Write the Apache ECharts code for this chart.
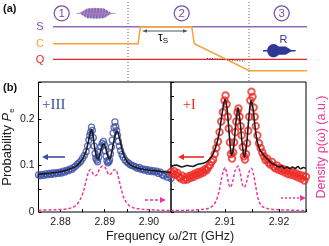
<!DOCTYPE html>
<html><head><meta charset="utf-8">
<script src="https://cdn.jsdelivr.net/npm/echarts@6/dist/echarts.min.js"></script>
<style>html,body{margin:0;padding:0;background:#fff}#c{width:329px;height:246px}</style>
</head><body><div id="c"></div>
<script>
// ---- Panel (b) left: +III ----
const dataIIIFreq = [2.8750,2.8754,2.8758,2.8762,2.8766,2.8770,2.8774,2.8778,2.8782,2.8786,2.8790,2.8794,2.8798,2.8802,2.8806,2.8810,2.8814,2.8818,2.8822,2.8826,2.8830,2.8834,2.8838,2.8842,2.8846,2.8850,2.8854,2.8858,2.8861,2.8864,2.8866,2.8868,2.8870,2.8872,2.8874,2.8876,2.8878,2.8880,2.8882,2.8884,2.8886,2.8888,2.8891,2.8894,2.8897,2.8899,2.8901,2.8903,2.8905,2.8907,2.8909,2.8911,2.8913,2.8915,2.8917,2.8919,2.8921,2.8923,2.8925,2.8927,2.8929,2.8931,2.8933,2.8936,2.8939,2.8942,2.8946,2.8950,2.8954,2.8958,2.8962,2.8966,2.8970,2.8974,2.8978,2.8982,2.8986,2.8990,2.8994,2.8998,2.9002,2.9006,2.9010,2.9014,2.9018,2.9022,2.9026,2.9030,2.9034,2.9038,2.9042,2.9046,2.9050];
const dataIIIProb = [0.080,0.078,0.081,0.079,0.082,0.080,0.083,0.081,0.084,0.082,0.085,0.083,0.086,0.084,0.088,0.086,0.090,0.089,0.093,0.092,0.096,0.099,0.103,0.106,0.110,0.116,0.122,0.130,0.142,0.155,0.165,0.172,0.183,0.176,0.160,0.142,0.126,0.116,0.112,0.108,0.118,0.130,0.140,0.148,0.152,0.145,0.132,0.120,0.110,0.106,0.108,0.112,0.125,0.140,0.155,0.170,0.182,0.194,0.184,0.175,0.165,0.152,0.142,0.132,0.124,0.118,0.112,0.108,0.105,0.102,0.100,0.099,0.097,0.094,0.096,0.092,0.093,0.090,0.092,0.088,0.090,0.087,0.089,0.086,0.088,0.083,0.086,0.080,0.078,0.082,0.075,0.080,0.072];
const fitIIIFreq = [2.8750,2.8770,2.8790,2.8810,2.8825,2.8835,2.8845,2.8852,2.8858,2.8863,2.8867,2.8870,2.8873,2.8877,2.8881,2.8885,2.8889,2.8894,2.8898,2.8902,2.8907,2.8911,2.8915,2.8920,2.8925,2.8928,2.8931,2.8936,2.8941,2.8947,2.8955,2.8965,2.8980,2.9000,2.9020,2.9050];
const fitIIIProb = [0.081,0.083,0.085,0.089,0.094,0.099,0.108,0.118,0.132,0.152,0.170,0.177,0.168,0.140,0.120,0.114,0.125,0.142,0.147,0.138,0.120,0.114,0.125,0.150,0.170,0.175,0.168,0.148,0.128,0.114,0.104,0.098,0.093,0.090,0.088,0.085];
const densIIIFreq = [2.8750,2.8790,2.8810,2.8825,2.8835,2.8845,2.8852,2.8858,2.8863,2.8867,2.8872,2.8877,2.8882,2.8888,2.8895,2.8900,2.8905,2.8910,2.8915,2.8920,2.8925,2.8930,2.8935,2.8940,2.8945,2.8955,2.8965,2.8985,2.9020,2.9050];
const densIIIAU = [0.004,0.005,0.006,0.009,0.014,0.028,0.045,0.068,0.085,0.091,0.085,0.078,0.080,0.092,0.099,0.097,0.088,0.080,0.083,0.090,0.091,0.078,0.058,0.040,0.027,0.014,0.009,0.006,0.004,0.003];

// ---- Panel (b) right: +I ----
const dataIFreq = [2.9000,2.9003,2.9006,2.9009,2.9012,2.9015,2.9018,2.9021,2.9024,2.9027,2.9030,2.9033,2.9036,2.9039,2.9042,2.9045,2.9048,2.9051,2.9054,2.9057,2.9060,2.9063,2.9066,2.9069,2.9072,2.9075,2.9078,2.9081,2.9084,2.9087,2.9090,2.9093,2.9096,2.9099,2.9101,2.9103,2.9105,2.9107,2.9109,2.9111,2.9113,2.9115,2.9117,2.9119,2.9121,2.9123,2.9125,2.9127,2.9129,2.9131,2.9133,2.9135,2.9137,2.9139,2.9141,2.9143,2.9145,2.9147,2.9149,2.9151,2.9153,2.9155,2.9157,2.9160,2.9163,2.9166,2.9169,2.9172,2.9175,2.9178,2.9181,2.9184,2.9187,2.9190,2.9193,2.9196,2.9199,2.9202,2.9205,2.9208,2.9211,2.9214,2.9217,2.9220,2.9223,2.9226,2.9229,2.9232,2.9235,2.9238,2.9241,2.9244,2.9247,2.9250];
const dataIProb = [0.086,0.082,0.088,0.080,0.084,0.076,0.072,0.078,0.069,0.074,0.070,0.077,0.073,0.080,0.076,0.083,0.079,0.086,0.082,0.088,0.085,0.092,0.090,0.096,0.101,0.108,0.113,0.125,0.138,0.152,0.172,0.195,0.215,0.240,0.251,0.232,0.205,0.180,0.150,0.125,0.115,0.128,0.150,0.172,0.195,0.215,0.223,0.205,0.185,0.165,0.140,0.120,0.113,0.125,0.148,0.175,0.205,0.240,0.259,0.248,0.225,0.205,0.185,0.165,0.148,0.138,0.128,0.120,0.112,0.115,0.106,0.102,0.108,0.098,0.094,0.100,0.091,0.095,0.088,0.092,0.085,0.090,0.082,0.087,0.080,0.085,0.078,0.083,0.075,0.080,0.072,0.078,0.068,0.076];
const fitIFreq = [2.9000,2.9010,2.9020,2.9030,2.9040,2.9050,2.9060,2.9070,2.9078,2.9085,2.9090,2.9095,2.9100,2.9104,2.9108,2.9112,2.9116,2.9120,2.9124,2.9128,2.9132,2.9136,2.9140,2.9144,2.9148,2.9152,2.9156,2.9160,2.9165,2.9170,2.9175,2.9180,2.9185,2.9190,2.9195,2.9200,2.9205,2.9210,2.9215,2.9220,2.9225,2.9230,2.9235,2.9240,2.9245,2.9250];
const fitIProb = [0.098,0.101,0.097,0.100,0.098,0.103,0.105,0.112,0.125,0.148,0.175,0.215,0.243,0.220,0.165,0.122,0.140,0.190,0.225,0.195,0.145,0.118,0.145,0.200,0.240,0.222,0.180,0.150,0.133,0.125,0.118,0.112,0.106,0.103,0.100,0.097,0.099,0.094,0.097,0.093,0.097,0.094,0.098,0.093,0.096,0.094];
const densIFreq = [2.9000,2.9040,2.9060,2.9070,2.9078,2.9084,2.9089,2.9093,2.9097,2.9100,2.9103,2.9107,2.9110,2.9114,2.9119,2.9124,2.9128,2.9132,2.9136,2.9140,2.9145,2.9149,2.9153,2.9157,2.9161,2.9165,2.9170,2.9180,2.9200,2.9250];
const densIAU = [0.003,0.004,0.006,0.008,0.014,0.025,0.045,0.068,0.088,0.096,0.085,0.060,0.053,0.065,0.090,0.099,0.085,0.060,0.053,0.065,0.088,0.094,0.080,0.055,0.030,0.018,0.011,0.007,0.005,0.003];

// ---- Axis ticks ----
const probTicks = [0, 0.1, 0.2];
const freqTicksLeft = [2.88, 2.89, 2.90];
const freqTicksRight = [2.91, 2.92];

const zip = (a, b) => a.map((v, i) => [v, b[i]]);
const near = (v, list) => list.some(t => Math.abs(v - t) < 1e-6);

const BLUE = '#3a4ea6', RED = '#ee2a24', MAG = '#e93a9c', BLACK = '#1a1a1a';
const PURP = '#8e6bb5', PURP2 = '#7b4fa6', ORANGE = '#f6a33a', QRED = '#e5262b', RBLUE = '#2f3797';
const FONT = 'Liberation Sans, Arial, sans-serif';

function arrow(x1, x2, y, color, dash, width) {
  const dir = x2 > x1 ? 1 : -1;
  const hx = x2 - dir * 6;
  return [
    { type: 'line', shape: { x1: x1, y1: y, x2: hx, y2: y }, style: { stroke: color, lineWidth: width || 1.6, lineDash: dash || null } },
    { type: 'polygon', shape: { points: [[x2, y], [hx, y - 3], [hx, y + 3]] }, style: { fill: color } }
  ];
}

// pulse glyph (decorative schematic of a drive pulse)
const pulsePts = [];
for (let x = 76.5; x <= 115.5; x += 0.25) {
  let env;
  if (x < 80 || x > 111) env = 0.3;
  else if (x < 88) env = 0.3 + 5.7 * (x - 80) / 8;
  else if (x < 104) env = 6 - 0.5 * Math.abs(x - 96) / 8;
  else env = 5.5 - 5.2 * (x - 104) / 7;
  pulsePts.push([x, 13.3 + env * Math.sin((x - 76.5) * Math.PI / 0.75)]);
}

const graphics = [
  { type: 'text', left: 3, top: 3, style: { text: '(a)', font: 'bold 11px ' + FONT, fill: '#111' } },
  { type: 'text', left: 3, top: 82, style: { text: '(b)', font: 'bold 11px ' + FONT, fill: '#111' } },
  { type: 'line', shape: { x1: 128, y1: 2, x2: 128, y2: 81 }, style: { stroke: '#666', lineWidth: 1, lineDash: [1, 2] } },
  { type: 'line', shape: { x1: 249, y1: 2, x2: 249, y2: 81 }, style: { stroke: '#666', lineWidth: 1, lineDash: [1, 2] } },
  { type: 'line', shape: { x1: 53, y1: 26.7, x2: 307, y2: 26.7 }, style: { stroke: PURP, lineWidth: 1.5 } },
  { type: 'line', shape: { x1: 53, y1: 59.3, x2: 307, y2: 59.3 }, style: { stroke: QRED, lineWidth: 1.3 } },
  { type: 'polyline', shape: { points: [[53, 43.7], [138, 43.7], [140.5, 26.7], [191.7, 26.7], [194.3, 43.7], [249.3, 70.7], [307, 70.7]] }, style: { stroke: ORANGE, lineWidth: 1.5, fill: null } },
  { type: 'polyline', shape: { points: [[207, 58.4], [220, 59.2], [232, 60.2], [245, 61.2]] }, style: { stroke: '#333', lineWidth: 1, lineDash: [1, 1.5], fill: null } },
  { type: 'text', x: 40, y: 27, style: { text: 'S', font: '11px ' + FONT, fill: PURP2, align: 'center', verticalAlign: 'middle' } },
  { type: 'text', x: 40, y: 44, style: { text: 'C', font: '11px ' + FONT, fill: ORANGE, align: 'center', verticalAlign: 'middle' } },
  { type: 'text', x: 40, y: 59.5, style: { text: 'Q', font: '11px ' + FONT, fill: QRED, align: 'center', verticalAlign: 'middle' } },
  { type: 'line', shape: { x1: 146, y1: 31, x2: 184, y2: 31 }, style: { stroke: '#555', lineWidth: 1 } },
  { type: 'polygon', shape: { points: [[142, 31], [147, 29.3], [147, 32.7]] }, style: { fill: '#555' } },
  { type: 'polygon', shape: { points: [[188, 31], [183, 29.3], [183, 32.7]] }, style: { fill: '#555' } },
  { type: 'text', x: 163, y: 37.5, style: { text: '{t|τ}{s|S}', align: 'center', verticalAlign: 'middle',
      rich: { t: { fontSize: 12, fontFamily: FONT, color: '#333' }, s: { fontSize: 8, fontFamily: FONT, color: '#333', padding: [7, 0, 0, 0] } } } },
  { type: 'circle', shape: { cx: 61.7, cy: 13.3, r: 7.5 }, style: { stroke: PURP2, lineWidth: 1.3, fill: null } },
  { type: 'circle', shape: { cx: 181.7, cy: 13.3, r: 7.5 }, style: { stroke: PURP2, lineWidth: 1.3, fill: null } },
  { type: 'circle', shape: { cx: 281.7, cy: 13.3, r: 7.5 }, style: { stroke: PURP2, lineWidth: 1.3, fill: null } },
  { type: 'text', x: 61.7, y: 13.8, style: { text: '1', font: '11.5px ' + FONT, fill: PURP2, align: 'center', verticalAlign: 'middle' } },
  { type: 'text', x: 181.7, y: 13.8, style: { text: '2', font: '11.5px ' + FONT, fill: PURP2, align: 'center', verticalAlign: 'middle' } },
  { type: 'text', x: 281.7, y: 13.8, style: { text: '3', font: '11.5px ' + FONT, fill: PURP2, align: 'center', verticalAlign: 'middle' } },
  { type: 'polyline', shape: { points: pulsePts }, style: { stroke: PURP2, lineWidth: 0.8, fill: null } },
  { type: 'line', shape: { x1: 263, y1: 50.7, x2: 295.5, y2: 50.7 }, style: { stroke: RBLUE, lineWidth: 1.5 } },
  { type: 'ellipse', shape: { cx: 273.5, cy: 50.7, rx: 6.3, ry: 6.6 }, style: { fill: RBLUE } },
  { type: 'polygon', shape: { points: [[275, 46.6], [285.5, 46.6], [289, 48.6], [292, 50.7], [289, 52.8], [285.5, 54.8], [275, 54.8]] }, style: { fill: RBLUE } },
  { type: 'text', x: 283.5, y: 40, style: { text: 'R', font: '11px ' + FONT, fill: RBLUE, align: 'center', verticalAlign: 'middle' } },
  // panel (b) annotations
  { type: 'text', x: 42, y: 105, style: { text: '+III', font: '15px Liberation Serif, Times New Roman, serif', fill: BLUE, verticalAlign: 'middle' } },
  { type: 'text', x: 183, y: 105, style: { text: '+I', font: '14px Liberation Serif, Times New Roman, serif', fill: RED, verticalAlign: 'middle' } },
  ...arrow(65, 42, 157, BLUE),
  ...arrow(204, 178, 157, RED),
  ...arrow(145, 166, 200, MAG, [3, 2]),
  ...arrow(281, 306, 198, MAG, [2, 2]),
  { type: 'text', x: 170, y: 237, style: { text: 'Frequency ω/2π (GHz)', font: '12.5px ' + FONT, fill: '#222', align: 'center', verticalAlign: 'middle' } }
];

const xLabelFmt = (ticks) => (v) => near(v, ticks) ? v.toFixed(2) : '';
const yLabelFmt = (v) => near(v, probTicks) ? (v === 0 ? '0' : v.toFixed(1)) : '';

const baseX = {
  type: 'value', interval: 0.005,
  axisLine: { show: false },
  axisTick: { inside: true, length: 3, lineStyle: { color: '#000', width: 1 } },
  splitLine: { show: false },
  axisLabel: { fontSize: 10.5, fontFamily: FONT, color: '#222', margin: 5 }
};
const baseY = {
  type: 'value', min: 0, max: 0.28, interval: 0.05,
  axisLine: { show: false },
  axisTick: { inside: true, length: 3, lineStyle: { color: '#000', width: 1 } },
  splitLine: { show: false }
};

const option = {
  animation: false,
  backgroundColor: '#fff',
  grid: [
    { left: 35, top: 82, width: 136, height: 130, show: true, borderColor: '#000', borderWidth: 1 },
    { left: 171, top: 82, width: 137, height: 130, show: true, borderColor: '#000', borderWidth: 1 }
  ],
  xAxis: [
    Object.assign({}, baseX, { gridIndex: 0, min: 2.875, max: 2.905, axisLabel: Object.assign({}, baseX.axisLabel, { formatter: xLabelFmt(freqTicksLeft) }) }),
    Object.assign({}, baseX, { gridIndex: 1, min: 2.900, max: 2.925, axisLabel: Object.assign({}, baseX.axisLabel, { formatter: xLabelFmt(freqTicksRight) }) })
  ],
  yAxis: [
    Object.assign({}, baseY, {
      gridIndex: 0, position: 'left',
      axisLabel: { fontSize: 10.5, fontFamily: FONT, color: '#222', margin: 4, formatter: yLabelFmt },
      name: '{a|Probability }{b|P}{c|e}', nameLocation: 'middle', nameRotate: 90, nameGap: 19,
      nameTextStyle: { rich: {
        a: { fontSize: 13, fontFamily: FONT, color: '#222', lineHeight: 16, verticalAlign: 'bottom' },
        b: { fontSize: 13, fontFamily: FONT, fontStyle: 'italic', color: '#222', lineHeight: 16, verticalAlign: 'bottom' },
        c: { fontSize: 8, fontFamily: FONT, color: '#222', lineHeight: 16, verticalAlign: 'bottom', padding: [0, 0, -2, 0] } } }
    }),
    Object.assign({}, baseY, { gridIndex: 1, position: 'left', axisLabel: { show: false } }),
    { type: 'value', gridIndex: 1, position: 'right', min: 0, max: 0.28,
      axisLine: { show: false }, axisTick: { show: false }, axisLabel: { show: false }, splitLine: { show: false },
      name: 'Density ρ(ω) (a.u.)', nameLocation: 'middle', nameRotate: 90, nameGap: 9,
      nameTextStyle: { fontSize: 12.5, fontFamily: FONT, color: MAG } },
    { type: 'value', gridIndex: 0, position: 'right', min: 0, max: 0.28, show: false }
  ],
  series: [
    { type: 'scatter', xAxisIndex: 0, yAxisIndex: 0, data: zip(dataIIIFreq, dataIIIProb), symbol: 'circle', symbolSize: 6,
      itemStyle: { color: 'rgba(255,255,255,0)', borderColor: BLUE, borderWidth: 1.3 }, z: 2 },
    { type: 'line', xAxisIndex: 0, yAxisIndex: 0, data: zip(fitIIIFreq, fitIIIProb), smooth: 0.3, showSymbol: false,
      lineStyle: { color: BLACK, width: 1.6 }, z: 3 },
    { type: 'line', xAxisIndex: 0, yAxisIndex: 3, data: zip(densIIIFreq, densIIIAU), smooth: 0.3, showSymbol: false,
      lineStyle: { color: MAG, width: 1.5, type: [3, 2] }, z: 4 },
    { type: 'scatter', xAxisIndex: 1, yAxisIndex: 1, data: zip(dataIFreq, dataIProb), symbol: 'circle', symbolSize: 6.5,
      itemStyle: { color: 'rgba(255,255,255,0)', borderColor: RED, borderWidth: 1.9 }, z: 2 },
    { type: 'line', xAxisIndex: 1, yAxisIndex: 1, data: zip(fitIFreq, fitIProb), smooth: 0.3, showSymbol: false,
      lineStyle: { color: BLACK, width: 1.6 }, z: 3 },
    { type: 'line', xAxisIndex: 1, yAxisIndex: 2, data: zip(densIFreq, densIAU), smooth: 0.3, showSymbol: false,
      lineStyle: { color: MAG, width: 1.5, type: [3, 2] }, z: 4 }
  ],
  graphic: graphics
};

const chart = echarts.init(document.getElementById('c'), null, { renderer: 'canvas' });
chart.setOption(option);
</script>
</body></html>
